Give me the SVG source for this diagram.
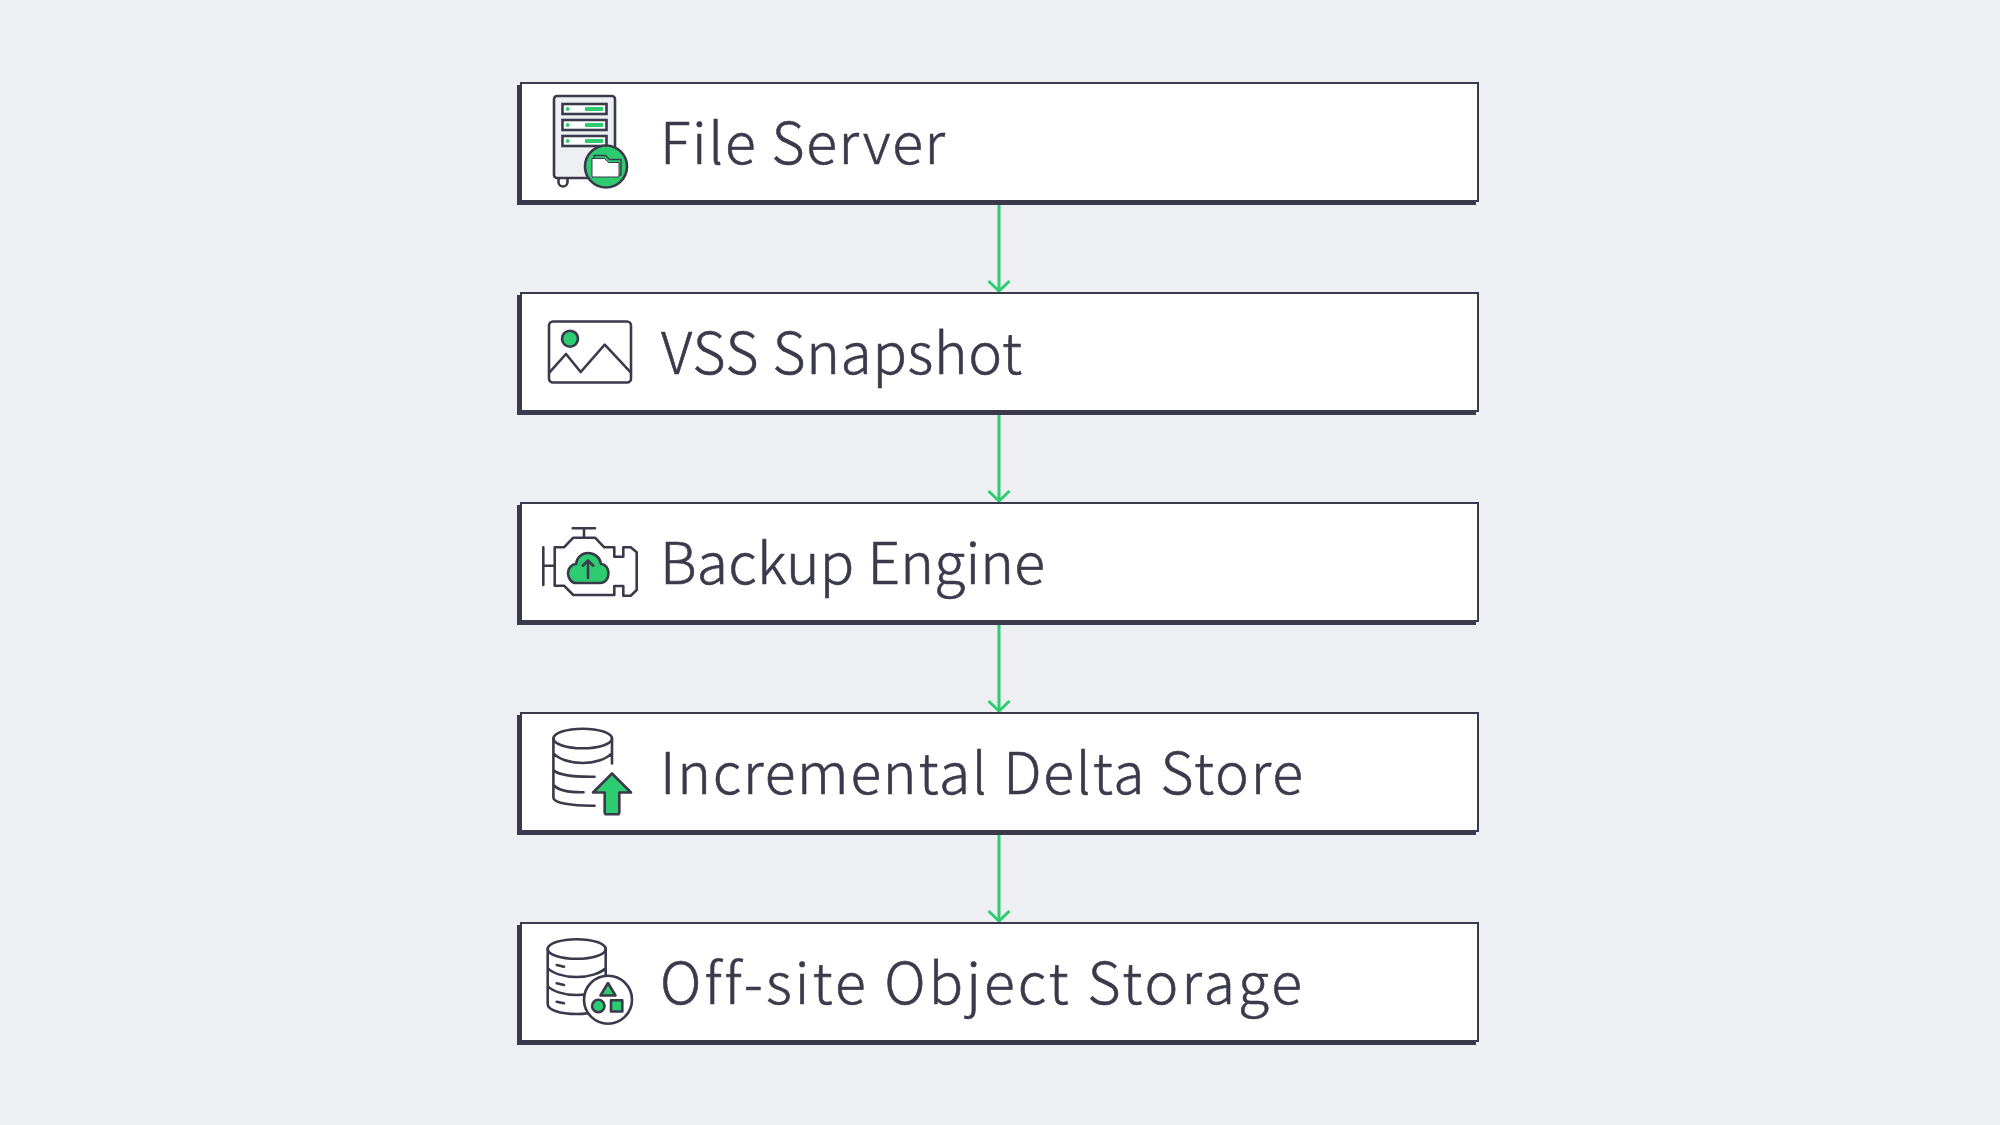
<svg xmlns="http://www.w3.org/2000/svg" width="2000" height="1125" viewBox="0 0 2000 1125">
<style>
.shadow{fill:#3a3a4c}
.box{fill:#fff;stroke:#3a3a4c;stroke-width:2}
.label{font-family:"Noto Sans CJK JP","Noto Sans",sans-serif;font-weight:300;font-size:57px;fill:#3a3a4c;stroke:#3a3a4c;stroke-width:.6;stroke-linejoin:round;font-variant-ligatures:none}
.ln{fill:none;stroke:#3a3a4c;stroke-width:2.6;stroke-linecap:round;stroke-linejoin:round}
.gn{fill:#2ecc71;stroke:#3a3a4c;stroke-width:2.6;stroke-linejoin:round}
.gf{fill:#2ecc71}
.slot{fill:#fff;stroke:#3a3a4c;stroke-width:2.6}
.conn{fill:none;stroke:#2ecc71;stroke-width:3}
</style>
<defs>
<marker id="arrow" markerUnits="userSpaceOnUse" markerWidth="26" markerHeight="16" refX="13" refY="13" orient="0" viewBox="0 0 26 16" overflow="visible">
<path d="M2.5 3L13 13L23.5 3" fill="none" stroke="#2ecc71" stroke-width="3"/>
</marker>
<g id="bx"><rect class="shadow" x="517" y="85" width="959" height="120"/><rect class="box" x="521" y="83" width="957" height="118"/></g>
</defs>
<rect width="2000" height="1125" fill="#eeeff3"/>
<g id="connectors">
<path class="conn" d="M999 204V291" marker-end="url(#arrow)"/>
<path class="conn" d="M999 414V501" marker-end="url(#arrow)"/>
<path class="conn" d="M999 624V711" marker-end="url(#arrow)"/>
<path class="conn" d="M999 834V921" marker-end="url(#arrow)"/>
</g>
<g id="file-server">
<use href="#bx"/>
<rect x="554" y="96" width="61" height="82" rx="3" fill="#eeeff3" stroke="#3a3a4c" stroke-width="2.600"/>
<path class="ln" d="M558.500 178.500v3.500a4.500 4.500 0 0 0 9 0v-3.500"/>
<rect class="slot" x="562.500" y="104" width="44" height="10"/>
<rect class="slot" x="562.500" y="120" width="44" height="10"/>
<rect class="slot" x="562.500" y="136" width="44" height="10"/>
<circle class="gf" cx="567.700" cy="109" r="2"/><rect class="gf" x="585" y="107" width="18" height="4"/>
<circle class="gf" cx="567.700" cy="125" r="2"/><rect class="gf" x="585" y="123" width="18" height="4"/>
<circle class="gf" cx="567.700" cy="141" r="2"/><rect class="gf" x="585" y="139" width="18" height="4"/>
<circle class="gn" cx="606" cy="166.500" r="21"/>
<path d="M594 159v-3.500h11.500l4 4H621V175h-2" fill="none" stroke="#3a3a4c" stroke-width="1.400" stroke-linejoin="round"/>
<path d="M592 177V158.500h12.500l4 4H619V177Z" fill="#fff" stroke="#3a3a4c" stroke-width="1"/>
</g>
<text class="label" x="660" y="164" textLength="285">File Server</text>
<g id="vss-snapshot">
<use href="#bx" y="210"/>
<rect class="ln" x="549" y="321.500" width="82" height="61" rx="4"/>
<circle class="gn" cx="570" cy="338.700" r="8"/>
<path class="ln" d="M549.500 372.300L566 354L580.700 372L604.700 344.700L630.700 372.300"/>
</g>
<text class="label" x="661" y="374" textLength="361">VSS Snapshot</text>
<g id="backup-engine">
<use href="#bx" y="420"/>
<path class="ln" d="M572.700 528.300H595M584 528.300V537.700M543.300 547.300V585M543.300 565.700H554.700"/>
<path class="ln" d="M554.700 547.300H564L573.300 537.700H595L604.300 547.300H614.300V556.700H623.300V547.300H630.700L636.700 552.300V590L630.700 595.700H623.300V586H614.300V595H573.300L564 585.700H554.700Z"/>
<path class="gn" d="M576 583C571 583 568 578 568 573C568 568 572 564 576 564C577 557 582 553 588 553C594 553 600 557 601 564C605 564 608.500 568 608.500 573C608.500 579 605 583 600 583Z"/>
<path class="ln" d="M588 578V560.500M582.700 565.700L588 560.500L593.300 565.700"/>
</g>
<text class="label" x="660" y="584" textLength="385">Backup Engine</text>
<g id="incremental-delta-store">
<use href="#bx" y="630"/>
<ellipse class="ln" cx="582.700" cy="738.500" rx="29.300" ry="9.800"/>
<path class="ln" d="M553.400 738.500V797.700C553.400 803 572 806 594.500 805.700M612 738.500V763.500M553.400 753C558 759 570 763 582.700 763C595 763 607 759 612 753M553.400 770C558 775 572 777 594.500 776.700M553.400 785C558 790 570 792.500 583.500 792.300"/>
<path class="gn" d="M612 773.500L631 792.500H619.300V812.500Q619.300 814.300 617.500 814.300H606.500Q604.700 814.300 604.700 812.500V792.500H593Z"/>
</g>
<text class="label" x="660" y="794" textLength="643">Incremental Delta Store</text>
<g id="offsite-object-storage">
<use href="#bx" y="840"/>
<ellipse class="ln" cx="576.700" cy="949" rx="29" ry="9.800"/>
<path class="ln" d="M547.700 949V1004C547.700 1010 560 1014 576.700 1014C593 1014 605.700 1010 605.700 1004V949M547.700 968C552 973 563 977 576.700 977C590 977 601 973 605.700 968M547.700 986C552 991 563 995 576.700 995C590 995 601 991 605.700 986M556.700 965L564 966.700M556.700 983.300L564 985M556.700 1001.700L564 1003.300"/>
<circle cx="608" cy="999.700" r="24" fill="#fff" stroke="#3a3a4c" stroke-width="2.600"/>
<path class="gn" d="M608 983L615.500 995.500H600.500Z"/>
<circle class="gn" cx="598.300" cy="1006" r="6.200"/>
<rect class="gn" x="611" y="1000.200" width="11.300" height="11.300"/>
</g>
<text class="label" x="660" y="1004" textLength="642">Off-site Object Storage</text>
</svg>
